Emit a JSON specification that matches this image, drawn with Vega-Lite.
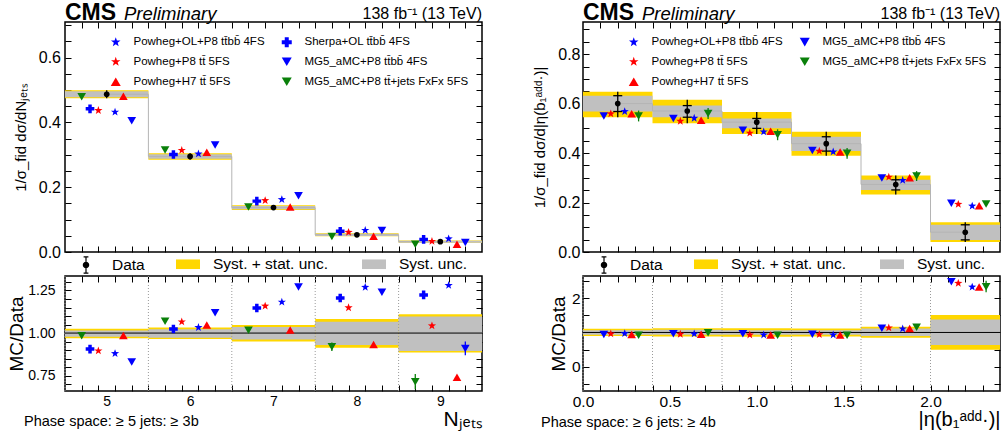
{
  "$schema": "https://vega.github.io/schema/vega-lite/v6.json",
  "background": "white",
  "padding": {"left": 7, "top": 1, "right": 4, "bottom": 0},
  "config": {
    "font": "Liberation Sans",
    "view": {"stroke": "black", "strokeWidth": 1.5},
    "axis": {"domain": false, "grid": false, "tickColor": "black", "tickSize": -6, "tickWidth": 1, "labelFontSize": 16, "labelColor": "black", "labelFont": "Liberation Sans", "titleFont": "Liberation Sans", "titleFontWeight": "normal", "titleColor": "black", "labelFlush": false, "labelOverlap": false},
    "legend": {"labelFont": "Liberation Sans", "labelColor": "black", "padding": 0, "titlePadding": 0, "labelLimit": 400},
    "title": {"font": "Liberation Sans", "fontWeight": "normal", "color": "black"}
  },
  "datasets": {
    "lbins": [
      {"x0": 4.5, "x1": 5.5, "xc": 5, "y": 0.487, "tlo": 0.475, "thi": 0.499, "slo": 0.478, "shi": 0.496, "rtlo": 0.970, "rthi": 1.025, "rslo": 0.978, "rshi": 1.015},
      {"x0": 5.5, "x1": 6.5, "xc": 6, "y": 0.295, "tlo": 0.285, "thi": 0.305, "slo": 0.288, "shi": 0.302, "rtlo": 0.965, "rthi": 1.032, "rslo": 0.973, "rshi": 1.022},
      {"x0": 6.5, "x1": 7.5, "xc": 7, "y": 0.137, "tlo": 0.130, "thi": 0.144, "slo": 0.132, "shi": 0.142, "rtlo": 0.950, "rthi": 1.047, "rslo": 0.963, "rshi": 1.036},
      {"x0": 7.5, "x1": 8.5, "xc": 8, "y": 0.053, "tlo": 0.0485, "thi": 0.0575, "slo": 0.0494, "shi": 0.0566, "rtlo": 0.914, "rthi": 1.082, "rslo": 0.930, "rshi": 1.066},
      {"x0": 8.5, "x1": 9.5, "xc": 9, "y": 0.032, "tlo": 0.0285, "thi": 0.0355, "slo": 0.0289, "shi": 0.0351, "rtlo": 0.886, "rthi": 1.110, "rslo": 0.895, "rshi": 1.097}
    ],
    "lmc": [
      {"m": "MG5_aMC+P8 tt\u0304+jets FxFx 5FS", "x": 4.7, "y": 0.479, "r": 0.984},
      {"m": "Sherpa+OL tt\u0304bb\u0304 4FS", "x": 4.8, "y": 0.442, "r": 0.906},
      {"m": "Powheg+P8 tt\u0304 5FS", "x": 4.9, "y": 0.437, "r": 0.896},
      {"m": "Powheg+OL+P8 tt\u0304bb\u0304 4FS", "x": 5.1, "y": 0.432, "r": 0.880},
      {"m": "Powheg+H7 tt\u0304 5FS", "x": 5.2, "y": 0.481, "r": 0.986},
      {"m": "MG5_aMC+P8 tt\u0304bb\u0304 4FS", "x": 5.3, "y": 0.405, "r": 0.830},
      {"m": "MG5_aMC+P8 tt\u0304+jets FxFx 5FS", "x": 5.7, "y": 0.315, "r": 1.070},
      {"m": "Sherpa+OL tt\u0304bb\u0304 4FS", "x": 5.8, "y": 0.301, "r": 1.024},
      {"m": "Powheg+P8 tt\u0304 5FS", "x": 5.9, "y": 0.314, "r": 1.066},
      {"m": "Powheg+OL+P8 tt\u0304bb\u0304 4FS", "x": 6.1, "y": 0.303, "r": 1.033},
      {"m": "Powheg+H7 tt\u0304 5FS", "x": 6.2, "y": 0.308, "r": 1.047},
      {"m": "MG5_aMC+P8 tt\u0304bb\u0304 4FS", "x": 6.3, "y": 0.330, "r": 1.120},
      {"m": "MG5_aMC+P8 tt\u0304+jets FxFx 5FS", "x": 6.7, "y": 0.139, "r": 1.016},
      {"m": "Sherpa+OL tt\u0304bb\u0304 4FS", "x": 6.8, "y": 0.157, "r": 1.147},
      {"m": "Powheg+P8 tt\u0304 5FS", "x": 6.9, "y": 0.159, "r": 1.159},
      {"m": "Powheg+OL+P8 tt\u0304bb\u0304 4FS", "x": 7.1, "y": 0.162, "r": 1.182},
      {"m": "Powheg+H7 tt\u0304 5FS", "x": 7.2, "y": 0.139, "r": 1.018},
      {"m": "MG5_aMC+P8 tt\u0304bb\u0304 4FS", "x": 7.3, "y": 0.174, "r": 1.270},
      {"m": "MG5_aMC+P8 tt\u0304+jets FxFx 5FS", "x": 7.7, "y": 0.048, "r": 0.920, "rlo": 0.895, "rhi": 0.945},
      {"m": "Sherpa+OL tt\u0304bb\u0304 4FS", "x": 7.8, "y": 0.064, "r": 1.206},
      {"m": "Powheg+P8 tt\u0304 5FS", "x": 7.9, "y": 0.061, "r": 1.149},
      {"m": "Powheg+OL+P8 tt\u0304bb\u0304 4FS", "x": 8.1, "y": 0.067, "r": 1.269},
      {"m": "Powheg+H7 tt\u0304 5FS", "x": 8.2, "y": 0.049, "r": 0.933},
      {"m": "MG5_aMC+P8 tt\u0304bb\u0304 4FS", "x": 8.3, "y": 0.066, "r": 1.240},
      {"m": "MG5_aMC+P8 tt\u0304+jets FxFx 5FS", "x": 8.7, "y": 0.024, "r": 0.714, "rlo": 0.67, "rhi": 0.76},
      {"m": "Sherpa+OL tt\u0304bb\u0304 4FS", "x": 8.8, "y": 0.039, "r": 1.224},
      {"m": "Powheg+P8 tt\u0304 5FS", "x": 8.9, "y": 0.033, "r": 1.043},
      {"m": "Powheg+OL+P8 tt\u0304bb\u0304 4FS", "x": 9.1, "y": 0.041, "r": 1.280},
      {"m": "Powheg+H7 tt\u0304 5FS", "x": 9.2, "y": 0.024, "r": 0.740},
      {"m": "MG5_aMC+P8 tt\u0304bb\u0304 4FS", "x": 9.3, "y": 0.029, "r": 0.910, "rlo": 0.87, "rhi": 0.95}
    ],
    "rbins": [
      {"x0": 0.0, "x1": 0.4, "xc": 0.2, "y": 0.600, "tlo": 0.545, "thi": 0.648, "slo": 0.568, "shi": 0.632, "rtlo": 0.894, "rthi": 1.106, "rslo": 0.937, "rshi": 1.065},
      {"x0": 0.4, "x1": 0.8, "xc": 0.6, "y": 0.570, "tlo": 0.521, "thi": 0.616, "slo": 0.545, "shi": 0.592, "rtlo": 0.884, "rthi": 1.126, "rslo": 0.932, "rshi": 1.077},
      {"x0": 0.8, "x1": 1.2, "xc": 1.0, "y": 0.525, "tlo": 0.477, "thi": 0.566, "slo": 0.500, "shi": 0.540, "rtlo": 0.874, "rthi": 1.126, "rslo": 0.932, "rshi": 1.068},
      {"x0": 1.2, "x1": 1.6, "xc": 1.4, "y": 0.438, "tlo": 0.389, "thi": 0.486, "slo": 0.408, "shi": 0.466, "rtlo": 0.884, "rthi": 1.116, "rslo": 0.932, "rshi": 1.068},
      {"x0": 1.6, "x1": 2.0, "xc": 1.8, "y": 0.273, "tlo": 0.232, "thi": 0.309, "slo": 0.251, "shi": 0.292, "rtlo": 0.845, "rthi": 1.164, "rslo": 0.894, "rshi": 1.116},
      {"x0": 2.0, "x1": 2.4, "xc": 2.2, "y": 0.080, "tlo": 0.040, "thi": 0.120, "slo": 0.049, "shi": 0.110, "rtlo": 0.500, "rthi": 1.510, "rslo": 0.633, "rshi": 1.377}
    ],
    "rmc": [
      {"m": "MG5_aMC+P8 tt\u0304bb\u0304 4FS", "x": 0.12, "y": 0.550, "r": 0.94},
      {"m": "Powheg+P8 tt\u0304 5FS", "x": 0.16, "y": 0.559, "r": 0.96},
      {"m": "Powheg+OL+P8 tt\u0304bb\u0304 4FS", "x": 0.24, "y": 0.568, "r": 0.97},
      {"m": "Powheg+H7 tt\u0304 5FS", "x": 0.28, "y": 0.559, "r": 0.94},
      {"m": "MG5_aMC+P8 tt\u0304+jets FxFx 5FS", "x": 0.32, "y": 0.550, "r": 0.92, "ylo": 0.528, "yhi": 0.572},
      {"m": "MG5_aMC+P8 tt\u0304bb\u0304 4FS", "x": 0.52, "y": 0.540, "r": 0.96},
      {"m": "Powheg+P8 tt\u0304 5FS", "x": 0.56, "y": 0.529, "r": 0.95},
      {"m": "Powheg+OL+P8 tt\u0304bb\u0304 4FS", "x": 0.64, "y": 0.541, "r": 0.96},
      {"m": "Powheg+H7 tt\u0304 5FS", "x": 0.68, "y": 0.533, "r": 0.95},
      {"m": "MG5_aMC+P8 tt\u0304+jets FxFx 5FS", "x": 0.72, "y": 0.560, "r": 0.99, "ylo": 0.538, "yhi": 0.582},
      {"m": "MG5_aMC+P8 tt\u0304bb\u0304 4FS", "x": 0.92, "y": 0.492, "r": 0.96},
      {"m": "Powheg+P8 tt\u0304 5FS", "x": 0.96, "y": 0.481, "r": 0.93},
      {"m": "Powheg+OL+P8 tt\u0304bb\u0304 4FS", "x": 1.04, "y": 0.486, "r": 0.93},
      {"m": "Powheg+H7 tt\u0304 5FS", "x": 1.08, "y": 0.488, "r": 0.93},
      {"m": "MG5_aMC+P8 tt\u0304+jets FxFx 5FS", "x": 1.12, "y": 0.474, "r": 0.92, "ylo": 0.452, "yhi": 0.496},
      {"m": "MG5_aMC+P8 tt\u0304bb\u0304 4FS", "x": 1.32, "y": 0.410, "r": 0.95},
      {"m": "Powheg+P8 tt\u0304 5FS", "x": 1.36, "y": 0.408, "r": 0.94},
      {"m": "Powheg+OL+P8 tt\u0304bb\u0304 4FS", "x": 1.44, "y": 0.405, "r": 0.93},
      {"m": "Powheg+H7 tt\u0304 5FS", "x": 1.48, "y": 0.404, "r": 0.93},
      {"m": "MG5_aMC+P8 tt\u0304+jets FxFx 5FS", "x": 1.52, "y": 0.399, "r": 0.92, "ylo": 0.377, "yhi": 0.421},
      {"m": "MG5_aMC+P8 tt\u0304bb\u0304 4FS", "x": 1.72, "y": 0.299, "r": 1.126},
      {"m": "Powheg+P8 tt\u0304 5FS", "x": 1.76, "y": 0.303, "r": 1.135},
      {"m": "Powheg+OL+P8 tt\u0304bb\u0304 4FS", "x": 1.84, "y": 0.290, "r": 1.106},
      {"m": "Powheg+H7 tt\u0304 5FS", "x": 1.88, "y": 0.300, "r": 1.116},
      {"m": "MG5_aMC+P8 tt\u0304+jets FxFx 5FS", "x": 1.92, "y": 0.307, "r": 1.155, "ylo": 0.287, "yhi": 0.327},
      {"m": "MG5_aMC+P8 tt\u0304bb\u0304 4FS", "x": 2.12, "y": 0.197, "r": 2.47},
      {"m": "Powheg+P8 tt\u0304 5FS", "x": 2.16, "y": 0.193, "r": 2.43},
      {"m": "Powheg+OL+P8 tt\u0304bb\u0304 4FS", "x": 2.24, "y": 0.186, "r": 2.32},
      {"m": "Powheg+H7 tt\u0304 5FS", "x": 2.28, "y": 0.187, "r": 2.32},
      {"m": "MG5_aMC+P8 tt\u0304+jets FxFx 5FS", "x": 2.32, "y": 0.194, "r": 2.33, "rlo": 2.17, "rhi": 2.50}
    ]
  },
  "spacing": 48,
  "resolve": {"scale": {"color": "independent", "shape": "independent", "fill": "independent", "stroke": "independent"}, "legend": {"color": "independent", "shape": "independent", "fill": "independent", "stroke": "independent"}},
  "hconcat": [
    {
      "spacing": -10,
      "resolve": {"scale": {"color": "independent", "shape": "independent", "fill": "independent", "stroke": "independent"}, "legend": {"color": "independent", "shape": "independent", "fill": "independent", "stroke": "independent"}},
      "vconcat": [
        {
          "width": 417,
          "height": 230,
          "resolve": {"axis": {"x": "independent", "y": "independent"}},
          "layer": [
            {
              "data": {"name": "lbins"},
              "mark": {"type": "rect", "color": "#ffd700"},
              "encoding": {
                "x": {"field": "x0", "type": "quantitative", "scale": {"domain": [4.5, 9.5], "nice": false, "zero": false},
                      "axis": {"orient": "bottom", "title": null, "labels": false, "values": [4.7, 4.9, 5.1, 5.3, 5.5, 5.7, 5.9, 6.1, 6.3, 6.5, 6.7, 6.9, 7.1, 7.3, 7.5, 7.7, 7.9, 8.1, 8.3, 8.5, 8.7, 8.9, 9.1, 9.3]}},
                "x2": {"field": "x1"},
                "y": {"field": "tlo", "type": "quantitative", "scale": {"domain": [0, 0.71], "nice": false, "zero": false},
                      "axis": {"orient": "left", "title": "1/σ_fid dσ/dN\u2c7c\u2091\u209c\u209b", "titleFontSize": 15, "titlePadding": 10, "labelPadding": 10.5,
                               "values": [0, 0.05, 0.1, 0.15, 0.2, 0.25, 0.3, 0.35, 0.4, 0.45, 0.5, 0.55, 0.6, 0.65, 0.7],
                               "labelExpr": "abs(datum.value*5-round(datum.value*5))<0.001 ? format(datum.value,'.1f') : ''"}},
                "y2": {"field": "thi"}
              }
            },
            {
              "data": {"name": "lbins"},
              "mark": {"type": "rect", "color": "#c0c0c0"},
              "encoding": {
                "x": {"field": "x0", "type": "quantitative", "axis": {"orient": "top", "title": null, "labels": false, "values": [4.7, 4.9, 5.1, 5.3, 5.5, 5.7, 5.9, 6.1, 6.3, 6.5, 6.7, 6.9, 7.1, 7.3, 7.5, 7.7, 7.9, 8.1, 8.3, 8.5, 8.7, 8.9, 9.1, 9.3]}},
                "x2": {"field": "x1"},
                "y": {"field": "slo", "type": "quantitative", "axis": {"orient": "right", "title": null, "labels": false, "values": [0.05, 0.1, 0.15, 0.2, 0.25, 0.3, 0.35, 0.4, 0.45, 0.5, 0.55, 0.6, 0.65, 0.7]}},
                "y2": {"field": "shi"}
              }
            },
            {
              "data": {"name": "lbins"},
              "mark": {"type": "line", "interpolate": "step", "color": "#b4b4b4", "strokeWidth": 1},
              "encoding": {"x": {"field": "xc", "type": "quantitative", "axis": null}, "y": {"field": "y", "type": "quantitative", "axis": null}}
            },
            {
              "data": {"name": "lbins"},
              "mark": {"type": "rule", "color": "black", "strokeWidth": 1.3},
              "encoding": {"x": {"field": "xc", "type": "quantitative", "axis": null}, "y": {"field": "tlo", "type": "quantitative", "axis": null}, "y2": {"field": "thi"}}
            },
            {
              "data": {"name": "lbins"},
              "mark": {"type": "point", "shape": "circle", "filled": true, "color": "black", "size": 32, "opacity": 1},
              "encoding": {"x": {"field": "xc", "type": "quantitative", "axis": null}, "y": {"field": "y", "type": "quantitative", "axis": null}}
            },
            {
              "data": {"name": "lmc"},
              "mark": {"type": "point", "filled": true, "size": 75, "opacity": 1},
              "encoding": {
                "x": {"field": "x", "type": "quantitative", "axis": null},
                "y": {"field": "y", "type": "quantitative", "axis": null},
                "color": {"field": "m", "type": "nominal",
                  "scale": {"domain": ["Powheg+OL+P8 tt\u0304bb\u0304 4FS", "Powheg+P8 tt\u0304 5FS", "Powheg+H7 tt\u0304 5FS", "Sherpa+OL tt\u0304bb\u0304 4FS", "MG5_aMC+P8 tt\u0304bb\u0304 4FS", "MG5_aMC+P8 tt\u0304+jets FxFx 5FS"],
                            "range": ["#0000ff", "#ff0000", "#ff0000", "#0000ff", "#0000ff", "#0a800a"]},
                  "legend": {"orient": "none", "legendX": 45, "legendY": 14, "columns": 2, "title": null, "labelFontSize": 11.5, "labelOffset": 12, "columnPadding": 16, "rowPadding": 7, "symbolStrokeWidth": 0}},
                "shape": {"field": "m", "type": "nominal",
                  "scale": {"domain": ["Powheg+OL+P8 tt\u0304bb\u0304 4FS", "Powheg+P8 tt\u0304 5FS", "Powheg+H7 tt\u0304 5FS", "Sherpa+OL tt\u0304bb\u0304 4FS", "MG5_aMC+P8 tt\u0304bb\u0304 4FS", "MG5_aMC+P8 tt\u0304+jets FxFx 5FS"],
                            "range": ["M0,-1L0.235,-0.324L0.951,-0.309L0.38,0.124L0.588,0.809L0,0.4L-0.588,0.809L-0.38,0.124L-0.951,-0.309L-0.235,-0.324Z", "M0,-1L0.235,-0.324L0.951,-0.309L0.38,0.124L0.588,0.809L0,0.4L-0.588,0.809L-0.38,0.124L-0.951,-0.309L-0.235,-0.324Z", "triangle-up", "cross", "triangle-down", "triangle-down"]},
                  "legend": {"orient": "none", "legendX": 45, "legendY": 14, "columns": 2, "title": null, "labelFontSize": 11.5, "labelOffset": 12, "columnPadding": 16, "rowPadding": 7, "symbolStrokeWidth": 0}}
              }
            },
            {
              "data": {"values": [{"t": "CMS"}]},
              "mark": {"type": "text", "fontWeight": "bold", "fontSize": 23, "align": "left", "baseline": "alphabetic", "dy": -2},
              "encoding": {"x": {"datum": 4.5, "type": "quantitative", "axis": null}, "y": {"datum": 0.71, "type": "quantitative", "axis": null}, "text": {"field": "t"}}
            },
            {
              "data": {"values": [{"t": "Preliminary"}]},
              "mark": {"type": "text", "fontStyle": "italic", "fontSize": 18.5, "align": "left", "baseline": "alphabetic", "dy": -2, "dx": 59},
              "encoding": {"x": {"datum": 4.5, "type": "quantitative", "axis": null}, "y": {"datum": 0.71, "type": "quantitative", "axis": null}, "text": {"field": "t"}}
            },
            {
              "data": {"values": [{"t": "138 fb\u207b\u00b9 (13 TeV)"}]},
              "mark": {"type": "text", "fontSize": 16, "align": "right", "baseline": "alphabetic", "dy": -3},
              "encoding": {"x": {"datum": 9.5, "type": "quantitative", "axis": null}, "y": {"datum": 0.71, "type": "quantitative", "axis": null}, "text": {"field": "t"}}
            }
          ]
        },
        {
          "width": 417,
          "height": 115,
          "title": {"text": "Phase space:  ≥ 5 jets:  ≥ 3b", "orient": "bottom", "anchor": "start", "frame": "group", "dx": -41, "offset": -14, "fontSize": 14.5},
          "resolve": {"axis": {"x": "independent", "y": "independent"}},
          "layer": [
            {
              "data": {"name": "lbins"},
              "mark": {"type": "rect"},
              "encoding": {
                "x": {"field": "x0", "type": "quantitative", "scale": {"domain": [4.5, 9.5], "nice": false, "zero": false},
                      "axis": {"orient": "bottom", "title": "N\u2c7c\u2091\u209c\u209b", "titleAnchor": "end", "titleFontSize": 21, "titlePadding": 0, "labelPadding": 9, "labelFontSize": 14,
                               "values": [5, 6, 7, 8, 9], "format": "d", "tickOpacity": 0}},
                "x2": {"field": "x1"},
                "y": {"field": "rtlo", "type": "quantitative", "scale": {"domain": [0.66, 1.335], "nice": false, "zero": false},
                      "axis": {"orient": "left", "title": "MC/Data", "titleFontSize": 19, "titlePadding": 1, "labelPadding": 16, "labelFontSize": 14,
                               "values": [0.75, 1, 1.25], "format": ".2f", "tickOpacity": 0}},
                "y2": {"field": "rthi"},
                "fill": {"datum": "Syst. + stat. unc.", "type": "nominal",
                  "scale": {"domain": ["Syst. + stat. unc.", "Syst. unc."], "range": ["#ffd700", "#c0c0c0"]},
                  "legend": {"orient": "none", "legendX": 111, "legendY": -24, "direction": "horizontal", "title": null, "symbolType": "M-1,-0.4H1V0.4H-1Z", "symbolSize": 576, "symbolStrokeWidth": 0, "labelFontSize": 15.5, "labelOffset": 13, "columnPadding": 33}}
              }
            },
            {
              "data": {"name": "lbins"},
              "mark": {"type": "rect"},
              "encoding": {
                "x": {"field": "x0", "type": "quantitative", "axis": {"orient": "bottom", "title": null, "labels": false, "values": [4.7, 4.9, 5.1, 5.3, 5.5, 5.7, 5.9, 6.1, 6.3, 6.5, 6.7, 6.9, 7.1, 7.3, 7.5, 7.7, 7.9, 8.1, 8.3, 8.5, 8.7, 8.9, 9.1, 9.3]}},
                "x2": {"field": "x1"},
                "y": {"field": "rslo", "type": "quantitative", "axis": {"orient": "left", "title": null, "labels": false, "values": [0.7, 0.75, 0.8, 0.85, 0.9, 0.95, 1, 1.05, 1.1, 1.15, 1.2, 1.25, 1.3]}},
                "y2": {"field": "rshi"},
                "fill": {"datum": "Syst. unc.", "type": "nominal"}
              }
            },
            {
              "data": {"name": "lbins"},
              "mark": {"type": "rule", "color": "#9a9a9a", "strokeDash": [1, 2], "strokeWidth": 1},
              "encoding": {"x": {"field": "x0", "type": "quantitative", "axis": {"orient": "top", "title": null, "labels": false, "values": [4.7, 4.9, 5.1, 5.3, 5.5, 5.7, 5.9, 6.1, 6.3, 6.5, 6.7, 6.9, 7.1, 7.3, 7.5, 7.7, 7.9, 8.1, 8.3, 8.5, 8.7, 8.9, 9.1, 9.3]}}}
            },
            {
              "data": {"values": [{"k": 1}]},
              "mark": {"type": "rule", "strokeWidth": 1},
              "encoding": {
                "y": {"datum": 1, "type": "quantitative", "axis": {"orient": "right", "title": null, "labels": false, "values": [0.7, 0.75, 0.8, 0.85, 0.9, 0.95, 1, 1.05, 1.1, 1.15, 1.2, 1.25, 1.3]}},
                "stroke": {"datum": "Data", "type": "nominal", "scale": {"domain": ["Data"], "range": ["black"]},
                  "legend": {"orient": "none", "legendX": 8, "legendY": -24, "title": null, "symbolType": "M0,-0.67V0.67M-0.2,-0.67H0.2M-0.2,0.67H0.2M-0.22,0A0.22,0.22,0,1,0,0.22,0A0.22,0.22,0,1,0,-0.22,0Z", "symbolSize": 576, "symbolFillColor": "black", "symbolStrokeColor": "black", "symbolStrokeWidth": 1.2, "labelFontSize": 15.5, "labelOffset": 13}}
              }
            },
            {
              "data": {"name": "lmc"},
              "transform": [{"filter": "isValid(datum.rlo)"}],
              "mark": {"type": "rule", "strokeWidth": 1.3},
              "encoding": {
                "x": {"field": "x", "type": "quantitative", "axis": null},
                "y": {"field": "rlo", "type": "quantitative", "axis": null},
                "y2": {"field": "rhi"},
                "color": {"field": "m", "type": "nominal", "legend": null,
                  "scale": {"domain": ["Powheg+OL+P8 tt\u0304bb\u0304 4FS", "Powheg+P8 tt\u0304 5FS", "Powheg+H7 tt\u0304 5FS", "Sherpa+OL tt\u0304bb\u0304 4FS", "MG5_aMC+P8 tt\u0304bb\u0304 4FS", "MG5_aMC+P8 tt\u0304+jets FxFx 5FS"],
                            "range": ["#0000ff", "#ff0000", "#ff0000", "#0000ff", "#0000ff", "#0a800a"]}}
              }
            },
            {
              "data": {"name": "lmc"},
              "mark": {"type": "point", "filled": true, "size": 75, "opacity": 1},
              "encoding": {
                "x": {"field": "x", "type": "quantitative", "axis": null},
                "y": {"field": "r", "type": "quantitative", "axis": null},
                "color": {"field": "m", "type": "nominal", "legend": null},
                "shape": {"field": "m", "type": "nominal", "legend": null,
                  "scale": {"domain": ["Powheg+OL+P8 tt\u0304bb\u0304 4FS", "Powheg+P8 tt\u0304 5FS", "Powheg+H7 tt\u0304 5FS", "Sherpa+OL tt\u0304bb\u0304 4FS", "MG5_aMC+P8 tt\u0304bb\u0304 4FS", "MG5_aMC+P8 tt\u0304+jets FxFx 5FS"],
                            "range": ["M0,-1L0.235,-0.324L0.951,-0.309L0.38,0.124L0.588,0.809L0,0.4L-0.588,0.809L-0.38,0.124L-0.951,-0.309L-0.235,-0.324Z", "M0,-1L0.235,-0.324L0.951,-0.309L0.38,0.124L0.588,0.809L0,0.4L-0.588,0.809L-0.38,0.124L-0.951,-0.309L-0.235,-0.324Z", "triangle-up", "cross", "triangle-down", "triangle-down"]}}
              }
            }
          ]
        }
      ]
    },
    {
      "spacing": -10,
      "resolve": {"scale": {"color": "independent", "shape": "independent", "fill": "independent", "stroke": "independent"}, "legend": {"color": "independent", "shape": "independent", "fill": "independent", "stroke": "independent"}},
      "vconcat": [
        {
          "width": 417,
          "height": 230,
          "resolve": {"axis": {"x": "independent", "y": "independent"}},
          "layer": [
            {
              "data": {"name": "rbins"},
              "mark": {"type": "rect", "color": "#ffd700"},
              "encoding": {
                "x": {"field": "x0", "type": "quantitative", "scale": {"domain": [0, 2.4], "nice": false, "zero": false},
                      "axis": {"orient": "bottom", "title": null, "labels": false, "values": [0.1, 0.2, 0.3, 0.4, 0.5, 0.6, 0.7, 0.8, 0.9, 1, 1.1, 1.2, 1.3, 1.4, 1.5, 1.6, 1.7, 1.8, 1.9, 2, 2.1, 2.2, 2.3]}},
                "x2": {"field": "x1"},
                "y": {"field": "tlo", "type": "quantitative", "scale": {"domain": [0, 0.93], "nice": false, "zero": false},
                      "axis": {"orient": "left", "title": "1/σ_fid dσ/d|η(b\u2081\u1d43\u1d48\u1d48\u00b7)|", "titleFontSize": 15, "titlePadding": 10, "labelPadding": 9,
                               "values": [0, 0.05, 0.1, 0.15, 0.2, 0.25, 0.3, 0.35, 0.4, 0.45, 0.5, 0.55, 0.6, 0.65, 0.7, 0.75, 0.8, 0.85, 0.9],
                               "labelExpr": "abs(datum.value*5-round(datum.value*5))<0.001 ? format(datum.value,'.1f') : ''"}},
                "y2": {"field": "thi"}
              }
            },
            {
              "data": {"name": "rbins"},
              "mark": {"type": "rect", "color": "#c0c0c0"},
              "encoding": {
                "x": {"field": "x0", "type": "quantitative", "axis": {"orient": "top", "title": null, "labels": false, "values": [0.1, 0.2, 0.3, 0.4, 0.5, 0.6, 0.7, 0.8, 0.9, 1, 1.1, 1.2, 1.3, 1.4, 1.5, 1.6, 1.7, 1.8, 1.9, 2, 2.1, 2.2, 2.3]}},
                "x2": {"field": "x1"},
                "y": {"field": "slo", "type": "quantitative", "axis": {"orient": "right", "title": null, "labels": false, "values": [0.05, 0.1, 0.15, 0.2, 0.25, 0.3, 0.35, 0.4, 0.45, 0.5, 0.55, 0.6, 0.65, 0.7, 0.75, 0.8, 0.85, 0.9]}},
                "y2": {"field": "shi"}
              }
            },
            {
              "data": {"name": "rbins"},
              "mark": {"type": "line", "interpolate": "step", "color": "#b4b4b4", "strokeWidth": 1},
              "encoding": {"x": {"field": "xc", "type": "quantitative", "axis": null}, "y": {"field": "y", "type": "quantitative", "axis": null}}
            },
            {
              "data": {"name": "rbins"},
              "mark": {"type": "rule", "color": "black", "strokeWidth": 1.3},
              "encoding": {"x": {"field": "xc", "type": "quantitative", "axis": null}, "y": {"field": "tlo", "type": "quantitative", "axis": null}, "y2": {"field": "thi"}}
            },
            {
              "data": {"name": "rbins"},
              "mark": {"type": "tick", "orient": "horizontal", "size": 9, "thickness": 1.3, "color": "black", "opacity": 1},
              "encoding": {"x": {"field": "xc", "type": "quantitative", "axis": null}, "y": {"field": "slo", "type": "quantitative", "axis": null}}
            },
            {
              "data": {"name": "rbins"},
              "mark": {"type": "tick", "orient": "horizontal", "size": 9, "thickness": 1.3, "color": "black", "opacity": 1},
              "encoding": {"x": {"field": "xc", "type": "quantitative", "axis": null}, "y": {"field": "shi", "type": "quantitative", "axis": null}}
            },
            {
              "data": {"name": "rbins"},
              "mark": {"type": "point", "shape": "circle", "filled": true, "color": "black", "size": 32, "opacity": 1},
              "encoding": {"x": {"field": "xc", "type": "quantitative", "axis": null}, "y": {"field": "y", "type": "quantitative", "axis": null}}
            },
            {
              "data": {"name": "rmc"},
              "transform": [{"filter": "isValid(datum.ylo)"}],
              "mark": {"type": "rule", "strokeWidth": 1.3},
              "encoding": {
                "x": {"field": "x", "type": "quantitative", "axis": null},
                "y": {"field": "ylo", "type": "quantitative", "axis": null},
                "y2": {"field": "yhi"},
                "color": {"field": "m", "type": "nominal"}
              }
            },
            {
              "data": {"name": "rmc"},
              "mark": {"type": "point", "filled": true, "size": 75, "opacity": 1},
              "encoding": {
                "x": {"field": "x", "type": "quantitative", "axis": null},
                "y": {"field": "y", "type": "quantitative", "axis": null},
                "color": {"field": "m", "type": "nominal",
                  "scale": {"domain": ["Powheg+OL+P8 tt\u0304bb\u0304 4FS", "Powheg+P8 tt\u0304 5FS", "Powheg+H7 tt\u0304 5FS", "MG5_aMC+P8 tt\u0304bb\u0304 4FS", "MG5_aMC+P8 tt\u0304+jets FxFx 5FS"],
                            "range": ["#0000ff", "#ff0000", "#ff0000", "#0000ff", "#0a800a"]},
                  "legend": {"orient": "none", "legendX": 45, "legendY": 14, "columns": 2, "title": null, "labelFontSize": 11.5, "labelOffset": 12, "columnPadding": 16, "rowPadding": 7, "symbolStrokeWidth": 0}},
                "shape": {"field": "m", "type": "nominal",
                  "scale": {"domain": ["Powheg+OL+P8 tt\u0304bb\u0304 4FS", "Powheg+P8 tt\u0304 5FS", "Powheg+H7 tt\u0304 5FS", "MG5_aMC+P8 tt\u0304bb\u0304 4FS", "MG5_aMC+P8 tt\u0304+jets FxFx 5FS"],
                            "range": ["M0,-1L0.235,-0.324L0.951,-0.309L0.38,0.124L0.588,0.809L0,0.4L-0.588,0.809L-0.38,0.124L-0.951,-0.309L-0.235,-0.324Z", "M0,-1L0.235,-0.324L0.951,-0.309L0.38,0.124L0.588,0.809L0,0.4L-0.588,0.809L-0.38,0.124L-0.951,-0.309L-0.235,-0.324Z", "triangle-up", "triangle-down", "triangle-down"]},
                  "legend": {"orient": "none", "legendX": 45, "legendY": 14, "columns": 2, "title": null, "labelFontSize": 11.5, "labelOffset": 12, "columnPadding": 16, "rowPadding": 7, "symbolStrokeWidth": 0}}
              }
            },
            {
              "data": {"values": [{"t": "CMS"}]},
              "mark": {"type": "text", "fontWeight": "bold", "fontSize": 23, "align": "left", "baseline": "alphabetic", "dy": -2},
              "encoding": {"x": {"datum": 0, "type": "quantitative", "axis": null}, "y": {"datum": 0.93, "type": "quantitative", "axis": null}, "text": {"field": "t"}}
            },
            {
              "data": {"values": [{"t": "Preliminary"}]},
              "mark": {"type": "text", "fontStyle": "italic", "fontSize": 18.5, "align": "left", "baseline": "alphabetic", "dy": -2, "dx": 59},
              "encoding": {"x": {"datum": 0, "type": "quantitative", "axis": null}, "y": {"datum": 0.93, "type": "quantitative", "axis": null}, "text": {"field": "t"}}
            },
            {
              "data": {"values": [{"t": "138 fb\u207b\u00b9 (13 TeV)"}]},
              "mark": {"type": "text", "fontSize": 16, "align": "right", "baseline": "alphabetic", "dy": -3},
              "encoding": {"x": {"datum": 2.4, "type": "quantitative", "axis": null}, "y": {"datum": 0.93, "type": "quantitative", "axis": null}, "text": {"field": "t"}}
            }
          ]
        },
        {
          "width": 417,
          "height": 115,
          "title": {"text": "Phase space:  ≥ 6 jets:  ≥ 4b", "orient": "bottom", "anchor": "start", "frame": "group", "dx": -42, "offset": -14, "fontSize": 14.5},
          "resolve": {"axis": {"x": "independent", "y": "independent"}},
          "layer": [
            {
              "data": {"name": "rbins"},
              "mark": {"type": "rect"},
              "encoding": {
                "x": {"field": "x0", "type": "quantitative", "scale": {"domain": [0, 2.4], "nice": false, "zero": false},
                      "axis": {"orient": "bottom", "title": "|η(b\u2081\u1d43\u1d48\u1d48\u00b7)|", "titleAnchor": "end", "titleFontSize": 20, "titlePadding": 0, "labelPadding": 9, "labelFontSize": 15.5,
                               "values": [0, 0.5, 1, 1.5, 2], "format": ".1f", "tickOpacity": 0}},
                "x2": {"field": "x1"},
                "y": {"field": "rtlo", "type": "quantitative", "scale": {"domain": [-0.7, 2.64], "nice": false, "zero": false},
                      "axis": {"orient": "left", "title": "MC/Data", "titleFontSize": 19, "titlePadding": 3, "labelPadding": 9, "labelFontSize": 15.5,
                               "values": [0, 2], "format": "d", "tickOpacity": 0}},
                "y2": {"field": "rthi"},
                "fill": {"datum": "Syst. + stat. unc.", "type": "nominal",
                  "scale": {"domain": ["Syst. + stat. unc.", "Syst. unc."], "range": ["#ffd700", "#c0c0c0"]},
                  "legend": {"orient": "none", "legendX": 111, "legendY": -24, "direction": "horizontal", "title": null, "symbolType": "M-1,-0.4H1V0.4H-1Z", "symbolSize": 576, "symbolStrokeWidth": 0, "labelFontSize": 15.5, "labelOffset": 13, "columnPadding": 33}}
              }
            },
            {
              "data": {"name": "rbins"},
              "mark": {"type": "rect"},
              "encoding": {
                "x": {"field": "x0", "type": "quantitative", "axis": {"orient": "bottom", "title": null, "labels": false, "values": [0.1, 0.2, 0.3, 0.4, 0.5, 0.6, 0.7, 0.8, 0.9, 1, 1.1, 1.2, 1.3, 1.4, 1.5, 1.6, 1.7, 1.8, 1.9, 2, 2.1, 2.2, 2.3]}},
                "x2": {"field": "x1"},
                "y": {"field": "rslo", "type": "quantitative", "axis": {"orient": "left", "title": null, "labels": false, "values": [-0.5, 0, 0.5, 1, 1.5, 2, 2.5]}},
                "y2": {"field": "rshi"},
                "fill": {"datum": "Syst. unc.", "type": "nominal"}
              }
            },
            {
              "data": {"name": "rbins"},
              "mark": {"type": "rule", "color": "#9a9a9a", "strokeDash": [1, 2], "strokeWidth": 1},
              "encoding": {"x": {"field": "x0", "type": "quantitative", "axis": {"orient": "top", "title": null, "labels": false, "values": [0.1, 0.2, 0.3, 0.4, 0.5, 0.6, 0.7, 0.8, 0.9, 1, 1.1, 1.2, 1.3, 1.4, 1.5, 1.6, 1.7, 1.8, 1.9, 2, 2.1, 2.2, 2.3]}}}
            },
            {
              "data": {"values": [{"k": 1}]},
              "mark": {"type": "rule", "strokeWidth": 1},
              "encoding": {
                "y": {"datum": 1, "type": "quantitative", "axis": {"orient": "right", "title": null, "labels": false, "values": [-0.5, 0, 0.5, 1, 1.5, 2, 2.5]}},
                "stroke": {"datum": "Data", "type": "nominal", "scale": {"domain": ["Data"], "range": ["black"]},
                  "legend": {"orient": "none", "legendX": 8, "legendY": -24, "title": null, "symbolType": "M0,-0.67V0.67M-0.2,-0.67H0.2M-0.2,0.67H0.2M-0.22,0A0.22,0.22,0,1,0,0.22,0A0.22,0.22,0,1,0,-0.22,0Z", "symbolSize": 576, "symbolFillColor": "black", "symbolStrokeColor": "black", "symbolStrokeWidth": 1.2, "labelFontSize": 15.5, "labelOffset": 13}}
              }
            },
            {
              "data": {"name": "rmc"},
              "transform": [{"filter": "isValid(datum.rlo)"}],
              "mark": {"type": "rule", "strokeWidth": 1.3},
              "encoding": {
                "x": {"field": "x", "type": "quantitative", "axis": null},
                "y": {"field": "rlo", "type": "quantitative", "axis": null},
                "y2": {"field": "rhi"},
                "color": {"field": "m", "type": "nominal", "legend": null,
                  "scale": {"domain": ["Powheg+OL+P8 tt\u0304bb\u0304 4FS", "Powheg+P8 tt\u0304 5FS", "Powheg+H7 tt\u0304 5FS", "MG5_aMC+P8 tt\u0304bb\u0304 4FS", "MG5_aMC+P8 tt\u0304+jets FxFx 5FS"],
                            "range": ["#0000ff", "#ff0000", "#ff0000", "#0000ff", "#0a800a"]}}
              }
            },
            {
              "data": {"name": "rmc"},
              "mark": {"type": "point", "filled": true, "size": 75, "opacity": 1},
              "encoding": {
                "x": {"field": "x", "type": "quantitative", "axis": null},
                "y": {"field": "r", "type": "quantitative", "axis": null},
                "color": {"field": "m", "type": "nominal", "legend": null},
                "shape": {"field": "m", "type": "nominal", "legend": null,
                  "scale": {"domain": ["Powheg+OL+P8 tt\u0304bb\u0304 4FS", "Powheg+P8 tt\u0304 5FS", "Powheg+H7 tt\u0304 5FS", "MG5_aMC+P8 tt\u0304bb\u0304 4FS", "MG5_aMC+P8 tt\u0304+jets FxFx 5FS"],
                            "range": ["M0,-1L0.235,-0.324L0.951,-0.309L0.38,0.124L0.588,0.809L0,0.4L-0.588,0.809L-0.38,0.124L-0.951,-0.309L-0.235,-0.324Z", "M0,-1L0.235,-0.324L0.951,-0.309L0.38,0.124L0.588,0.809L0,0.4L-0.588,0.809L-0.38,0.124L-0.951,-0.309L-0.235,-0.324Z", "triangle-up", "triangle-down", "triangle-down"]}}
              }
            }
          ]
        }
      ]
    }
  ]
}
